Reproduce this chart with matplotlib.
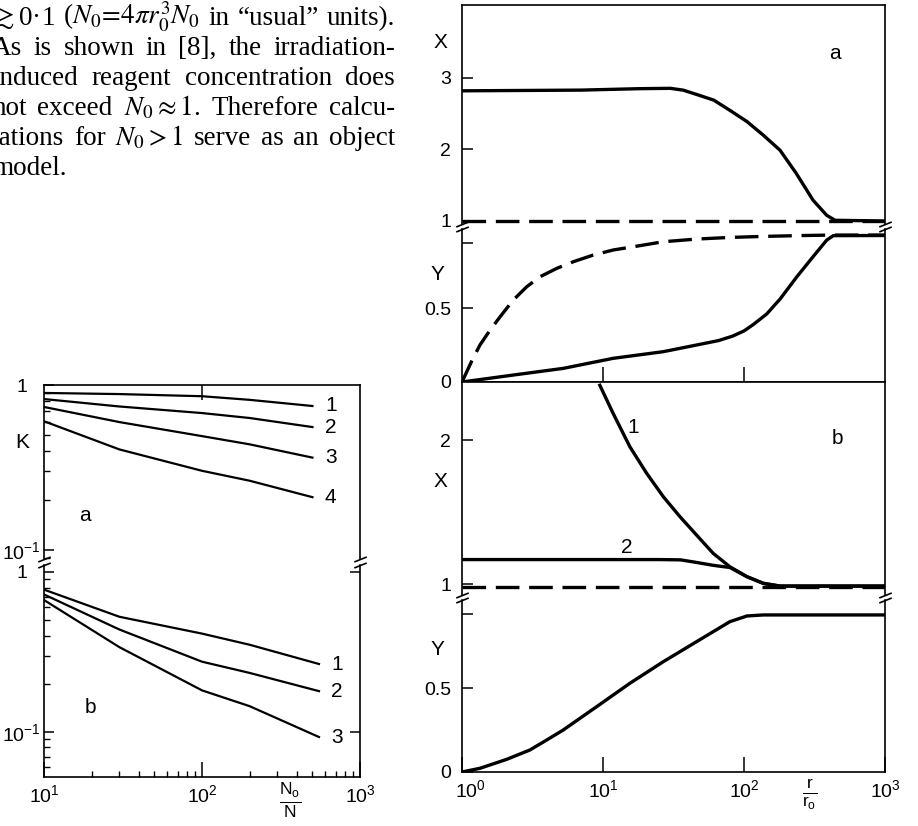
import matplotlib
matplotlib.use('Agg')
import matplotlib.pyplot as plt
from matplotlib.ticker import NullLocator, LogLocator, FixedLocator
from matplotlib.transforms import ScaledTranslation

plt.rcParams['font.family'] = ['Liberation Sans', 'DejaVu Sans']
plt.rcParams['mathtext.fontset'] = 'custom'
plt.rcParams['mathtext.rm'] = 'Liberation Sans'
plt.rcParams['mathtext.it'] = 'Liberation Sans:italic'
plt.rcParams['mathtext.bf'] = 'Liberation Sans:bold'
plt.rcParams['lines.scale_dashes'] = False

# ---- left chart: K against N0/N ----
n_a = [10, 30, 100, 200, 500]
k_a = {
    '1': [0.895, 0.881, 0.855, 0.813, 0.746],
    '2': [0.822, 0.741, 0.676, 0.631, 0.556],
    '3': [0.736, 0.596, 0.490, 0.437, 0.363],
    '4': [0.603, 0.407, 0.302, 0.263, 0.209],
}
n_b = [10, 30, 100, 200, 550]
k_b = {
    '1': [0.776, 0.525, 0.412, 0.351, 0.266],
    '2': [0.724, 0.437, 0.275, 0.234, 0.180],
    '3': [0.668, 0.339, 0.182, 0.145, 0.093],
}

# ---- right chart: X and Y against r/r0 ----
r_xa = [1, 7, 18, 30, 37, 46, 61, 79, 105, 137, 180, 234, 309, 386, 442, 1000]
x_a = [2.82, 2.83, 2.85, 2.855, 2.83, 2.77, 2.69, 2.55, 2.39, 2.20, 1.99, 1.67, 1.29, 1.08, 1.01,
       1.0]
x_a_ref = 1.0

r_ya_dash = [1, 1.17, 1.34, 1.58, 1.86, 2.31, 2.88, 3.57, 4.70, 6.17, 8.53, 11.8, 16.4, 26.8,
             46.1, 79.4, 137, 237, 407, 1000]
y_a_dash = [0, 0.14, 0.25, 0.35, 0.44, 0.554, 0.644, 0.711, 0.768, 0.813, 0.858, 0.892, 0.914,
            0.948, 0.966, 0.977, 0.984, 0.989, 0.993, 0.993]
r_ya = [1, 2.31, 5.22, 11.8, 26.8, 46.1, 66, 83, 100, 117, 145, 180, 237, 309, 386, 430, 1000]
y_a = [0, 0.047, 0.092, 0.16, 0.205, 0.25, 0.28, 0.31, 0.345, 0.39, 0.46, 0.56, 0.711, 0.847,
       0.959, 0.989, 0.99]

r_xb1 = [9.5, 11.8, 15.5, 20.4, 26.8, 35.2, 46.1, 60.5, 79.4, 105, 137, 180, 1000]
x_b1 = [2.38, 2.185, 1.954, 1.769, 1.606, 1.467, 1.34, 1.213, 1.12, 1.051, 1.005, 0.986, 0.986]
r_xb2 = [1, 25, 35.5, 46.1, 60.5, 79.4, 105, 137, 180, 1000]
x_b2 = [1.17, 1.17, 1.168, 1.15, 1.13, 1.115, 1.051, 1.005, 0.986, 0.986]
x_b_ref = 0.98

r_yb = [1, 1.34, 2.07, 3.03, 3.98, 5.22, 9.02, 15.5, 26.8, 46.1, 79.4, 105, 137, 1000]
y_b = [0, 0.022, 0.075, 0.131, 0.19, 0.25, 0.389, 0.528, 0.657, 0.776, 0.895, 0.929, 0.935, 0.935]

# ---- text block at the top left ----
para = [
    ['$\\gtrsim$0·1', '($N_0\\!=\\!4\\pi r_0^3N_0$', 'in', '“usual”', 'units).'],
    ['As', 'is', 'shown', 'in', '[8],', 'the', 'irradiation-'],
    ['induced', 'reagent', 'concentration', 'does'],
    ['not', 'exceed', '$N_0\\approx 1$.', 'Therefore', 'calcu-'],
    ['lations', 'for', '$N_0>1$', 'serve', 'as', 'an', 'object'],
    ['model.'],
]

W, H = 918, 826
fig = plt.figure(figsize=(W / 100, H / 100), dpi=100)


def box(x0, y0, x1, y1):
    return [x0 / W, 1 - y1 / H, (x1 - x0) / W, (y1 - y0) / H]


def break_marks(ax, y):
    for x in (0, 1):
        ax.plot([x], [y], marker=[(-1, -0.4), (1, 0.4)], ms=9, mew=1.2, color='k',
                transform=ax.transAxes, clip_on=False)


lw_r = 2.4
dash = (17, 7)
fs_tick = 14
fs_lab = 15

axAX = fig.add_axes(box(462, 5, 885, 224))
axAY = fig.add_axes(box(462, 229, 885, 382))
axBX = fig.add_axes(box(462, 382, 885, 595))
axBY = fig.add_axes(box(462, 600, 885, 772))

for ax in (axAX, axAY, axBX, axBY):
    ax.set_xscale('log')
    ax.set_xlim(1, 1000)
    ax.xaxis.set_minor_locator(NullLocator())
    for s in ax.spines.values():
        s.set_linewidth(1.2)
    ax.tick_params(axis='y', direction='in', length=8, width=1.1, pad=8, labelsize=fs_tick)
    ax.tick_params(axis='x', direction='in', length=11, width=1.1, pad=5, labelsize=fs_tick)

# panel a, X
axAX.plot(r_xa, x_a, color='k', lw=lw_r)
axAX.plot([1, 1000], [x_a_ref, x_a_ref], color='k', lw=lw_r, dashes=dash)
axAX.set_ylim(0.958, 4.02)
axAX.set_yticks([1, 2, 3])
axAX.set_xticks([])
axAX.spines['bottom'].set_visible(False)
break_marks(axAX, 0)
axAX.text(-0.052, 0.83, 'X', transform=axAX.transAxes, fontsize=fs_lab, ha='center', va='center')
axAX.text(0.882, 0.78, 'a', transform=axAX.transAxes, fontsize=fs_lab, ha='center', va='center')

# panel a, Y
axAY.plot(r_ya_dash, y_a_dash, color='k', lw=lw_r, dashes=dash)
axAY.plot(r_ya, y_a, color='k', lw=lw_r)
axAY.set_ylim(0, 1.034)
axAY.set_yticks([0, 0.5, 0.94])
axAY.set_yticklabels(['0', '0.5', ''])
axAY.set_xticks([10, 100])
axAY.set_xticklabels([])
axAY.spines['top'].set_visible(False)
break_marks(axAY, 1)
axAY.text(-0.058, 0.70, 'Y', transform=axAY.transAxes, fontsize=fs_lab, ha='center', va='center')

# panel b, X
axBX.plot(r_xb1, x_b1, color='k', lw=lw_r)
axBX.plot(r_xb2, x_b2, color='k', lw=lw_r)
axBX.plot([1, 1000], [x_b_ref, x_b_ref], color='k', lw=lw_r, dashes=dash)
axBX.set_ylim(0.924, 2.403)
axBX.set_yticks([1, 2])
axBX.set_xticks([])
axBX.spines['bottom'].set_visible(False)
break_marks(axBX, 0)
axBX.text(16.3, 2.09, '1', fontsize=fs_lab, ha='center', va='center')
axBX.text(14.8, 1.257, '2', fontsize=fs_lab, ha='center', va='center')
axBX.text(-0.052, 0.535, 'X', transform=axBX.transAxes, fontsize=fs_lab, ha='center', va='center')
axBX.text(0.887, 0.737, 'b', transform=axBX.transAxes, fontsize=fs_lab, ha='center', va='center')

# panel b, Y
axBY.plot(r_yb, y_b, color='k', lw=lw_r)
axBY.set_ylim(0, 1.024)
axBY.set_yticks([0, 0.5, 0.94])
axBY.set_yticklabels(['0', '0.5', ''])
axBY.set_xticks([1, 10, 100, 1000])
axBY.set_xticklabels(['$10^0$', '$10^1$', '$10^2$', '$10^3$'])
# the first label sits a little right of its tick, clear of the "0"
first = axBY.get_xticklabels()[0]
first.set_transform(first.get_transform() + ScaledTranslation(0.08, 0, fig.dpi_scale_trans))
axBY.spines['top'].set_visible(False)
break_marks(axBY, 1)
axBY.text(-0.058, 0.714, 'Y', transform=axBY.transAxes, fontsize=fs_lab, ha='center', va='center')
axBY.text(0.823, -0.135, '$\\frac{\\mathrm{r}}{\\mathrm{r_o}}$', transform=axBY.transAxes,
          fontsize=18, ha='center', va='center')

# left chart
axKa = fig.add_axes(box(44, 385, 360, 559))
axKb = fig.add_axes(box(44, 565, 360, 777))
for ax in (axKa, axKb):
    ax.set_xscale('log')
    ax.set_yscale('log')
    ax.set_xlim(10, 1000)
    for s in ax.spines.values():
        s.set_linewidth(1.2)
    ax.yaxis.set_major_locator(FixedLocator([0.1, 1]))
    ax.yaxis.set_minor_locator(LogLocator(subs=range(2, 10)))
    ax.set_yticklabels(['$10^{-1}$', '1'])
    ax.yaxis.set_minor_formatter(plt.NullFormatter())
    ax.tick_params(axis='y', which='major', direction='in', length=7, width=1.1, pad=16,
                   labelsize=fs_tick)
    ax.tick_params(axis='y', which='minor', direction='in', length=4, width=1.0)
    for lbl in ax.get_yticklabels():
        lbl.set_ha('center')

for name, k in k_a.items():
    axKa.plot(n_a, k, color='k', lw=1.6)
    axKa.annotate(name, (n_a[-1], k[-1]), xytext=(9, 0), textcoords='offset points',
                  fontsize=fs_lab, va='center')
axKa.set_ylim(0.0882, 1.0)
axKa.set_xticks([100])
axKa.xaxis.set_minor_locator(NullLocator())
axKa.tick_params(axis='x', top=True, bottom=False, labelbottom=False, direction='in',
                 length=11, width=1.1)
axKa.spines['bottom'].set_visible(False)
break_marks(axKa, 0)
axKa.text(-0.07, 0.669, 'K', transform=axKa.transAxes, fontsize=fs_lab, ha='center', va='center')
axKa.text(0.13, 0.25, 'a', transform=axKa.transAxes, fontsize=fs_lab, ha='center', va='center')

for name, k in k_b.items():
    axKb.plot(n_b, k, color='k', lw=1.6)
    axKb.annotate(name, (n_b[-1], k[-1]), xytext=(9, 0), textcoords='offset points',
                  fontsize=fs_lab, va='center')
axKb.set_ylim(0.0523, 1.106)
axKb.set_xticks([10, 100, 1000])
axKb.set_xticklabels(['$10^1$', '$10^2$', '$10^3$'])
axKb.xaxis.set_minor_locator(LogLocator(subs=range(2, 10)))
axKb.xaxis.set_minor_formatter(plt.NullFormatter())
axKb.tick_params(axis='x', which='major', direction='in', length=11, width=1.1, pad=5,
                 labelsize=fs_tick)
axKb.tick_params(axis='x', which='minor', direction='in', length=4, width=1.0)
axKb.tick_params(axis='y', which='major', right=True)
axKb.spines['top'].set_visible(False)
break_marks(axKb, 1)
axKb.text(0.146, 0.33, 'b', transform=axKb.transAxes, fontsize=fs_lab, ha='center', va='center')
axKb.text(0.778, -0.11, '$\\frac{\\mathrm{N_o}}{\\mathrm{N}}$', transform=axKb.transAxes,
          fontsize=18, ha='center', va='center')

# justified paragraph, word by word
renderer = fig.canvas.get_renderer()
x_left, x_right = -8, 395
for i, words in enumerate(para):
    y = 1 - (25 + 30 * i) / H
    items = [fig.text(0, y, w, fontsize=19.5, family=['Liberation Serif', 'DejaVu Serif'],
                      math_fontfamily='stix', va='baseline') for w in words]
    widths = [t.get_window_extent(renderer).width for t in items]
    if len(items) > 1 and i < len(para) - 1:
        gap = (x_right - x_left - sum(widths)) / (len(items) - 1)
    else:
        gap = 5
    x = x_left
    for t, wd in zip(items, widths):
        t.set_x(x / W)
        x += wd + gap

fig.savefig('out.png', dpi=100)
